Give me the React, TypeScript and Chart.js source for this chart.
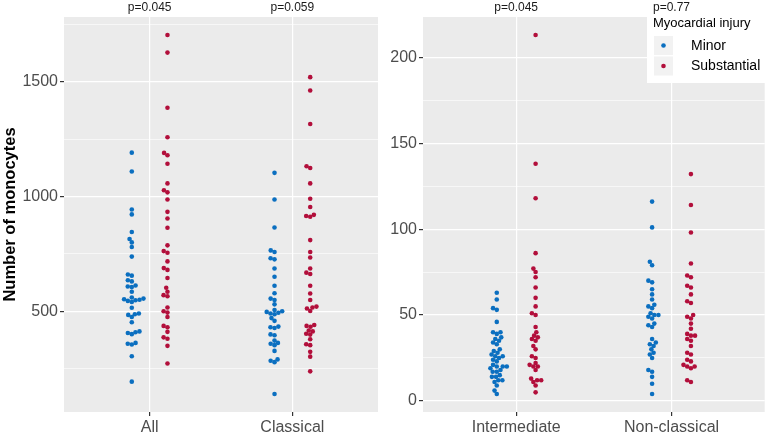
import React, { useEffect, useRef } from "react";
import { Chart, registerables } from "chart.js";

Chart.register(...registerables);

const leftCategories = ["All", "Classical"];
const rightCategories = ["Intermediate", "Non-classical"];
const groupNames = ["Minor", "Substantial"];
const groupColors = ["#0B6FC0", "#B20F3B"];
const legendTitle = "Myocardial injury";
const yTitle = "Number of monocytes";
const leftPValues = ["p=0.045", "p=0.059"];
const rightPValues = ["p=0.045", "p=0.77"];

const allMinor = [1191, 1109, 943, 922, 845, 815, 800, 780, 738, 660, 655, 635, 630, 612, 608, 605, 585, 560, 555, 552, 550, 548, 545, 540, 515, 490, 487, 484, 475, 452, 412, 408, 405, 400, 362, 358, 355, 304, 193];
const allSubstantial = [1704, 1627, 1387, 1258, 1190, 1180, 1143, 1057, 1027, 1018, 987, 933, 904, 864, 787, 762, 755, 717, 688, 680, 645, 602, 585, 570, 565, 516, 500, 494, 475, 436, 430, 410, 386, 380, 349, 272];
const classicalMinor = [1103, 987, 865, 765, 758, 731, 726, 686, 650, 611, 578, 555, 549, 530, 505, 500, 497, 493, 490, 487, 470, 458, 433, 430, 427, 399, 395, 372, 362, 358, 352, 327, 290, 284, 278, 139];
const classicalSubstantial = [1520, 1462, 1316, 1132, 1124, 1057, 990, 954, 920, 915, 912, 810, 758, 734, 686, 668, 662, 611, 577, 549, 520, 516, 512, 501, 440, 436, 432, 416, 412, 402, 398, 378, 356, 352, 323, 302, 238];
const intermediateMinor = [63, 59, 54, 53, 46, 40, 40, 39, 37, 36, 35, 34, 33, 30, 29, 28, 27, 26, 26, 25, 24, 23, 21, 20, 20, 20, 19, 18, 17, 17, 15, 14, 14, 12, 12, 11, 9, 6, 4];
const intermediateSubstantial = [213, 138, 118, 86, 77, 75, 72, 66, 60, 55, 51, 50, 43, 40, 38, 37, 36, 35, 32, 30, 26, 25, 22, 21, 20, 20, 18, 13, 12, 12, 11, 9, 5];
const nonClassicalMinor = [116, 101, 81, 79, 70, 69, 65, 62, 59, 56, 55, 54, 51, 50, 50, 49, 48, 45, 44, 43, 36, 34, 33, 32, 30, 28, 27, 25, 18, 17, 14, 10, 4];
const nonClassicalSubstantial = [132, 114, 98, 80, 73, 72, 67, 66, 62, 58, 57, 50, 49, 48, 45, 42, 39, 38, 38, 36, 35, 32, 28, 27, 24, 23, 21, 20, 20, 19, 12, 11];

const leftMinorTicks = 250;
const leftMajorTicks = 500;
const rightMinorTicks = 25;
const rightMajorTicks = 50;

const FONT = "'Liberation Sans', Arial, sans-serif";
const DODGE = 0.125;
const POINT_R = 2.3;
const SWARM_D = 4.1;

function swarm(ys: number[], d: number): number[] {
  const order = ys.map((_, i) => i).sort((a, b) => ys[b] - ys[a]);
  const placed: { x: number; y: number }[] = [];
  const out = new Array(ys.length).fill(0);
  for (const i of order) {
    const y = ys[i];
    const near = placed.filter((p) => Math.abs(p.y - y) < d);
    const cands = [0];
    for (const p of near) {
      const dx = Math.sqrt(Math.max(0, d * d - (p.y - y) * (p.y - y)));
      cands.push(p.x + dx, p.x - dx);
    }
    cands.sort((a, b) => Math.abs(a) - Math.abs(b) || a - b);
    let chosen = 0;
    for (const c of cands) {
      if (near.every((p) => (p.x - c) ** 2 + (p.y - y) ** 2 >= d * d - 0.01)) {
        chosen = c;
        break;
      }
    }
    out[i] = chosen;
    placed.push({ x: chosen, y });
  }
  return out;
}

function makeChart(
  canvas: HTMLCanvasElement,
  categories: string[],
  series: number[][][],
  pvals: string[],
  minorStep: number,
  majorStep: number,
  yAxisWidth: number,
  padRight: number,
  showTitle: boolean,
  showLegend: boolean
) {
  const allVals = series.flat(2);
  const lo = Math.min(...allVals);
  const hi = Math.max(...allVals);
  const pad = (hi - lo) * 0.05;
  const yMin = lo - pad;
  const yMax = hi + pad;

  const datasets = groupNames.map((name, g) => ({
    label: name,
    data: categories.flatMap((_, c) =>
      series[c][g].map((v) => ({ x: c + 1 + (g === 0 ? -DODGE : DODGE), y: v }))
    ),
    backgroundColor: groupColors[g],
    borderColor: groupColors[g],
    pointRadius: POINT_R,
    pointBorderWidth: 0,
    pointHoverRadius: POINT_R,
  }));

  const decor = {
    id: "decor",
    beforeDraw(chart: any) {
      const { ctx, chartArea } = chart;
      ctx.save();
      ctx.fillStyle = "#EBEBEB";
      ctx.fillRect(chartArea.left, chartArea.top, chartArea.right - chartArea.left, chartArea.bottom - chartArea.top);
      ctx.restore();
    },
    afterDraw(chart: any) {
      const { ctx } = chart;
      const xs = chart.scales.x;
      ctx.save();
      if (showLegend) {
        const bx = 263;
        ctx.fillStyle = "#FFFFFF";
        ctx.fillRect(bx, 13, chart.width - bx, 70);
        ctx.fillStyle = "#000000";
        ctx.font = `13px ${FONT}`;
        ctx.textAlign = "left";
        ctx.textBaseline = "middle";
        ctx.fillText(legendTitle, 269, 23);
        groupNames.forEach((name, g) => {
          const ky = 36 + g * 20.5;
          ctx.fillStyle = "#F2F2F2";
          ctx.fillRect(270, ky, 19, 19);
          ctx.fillStyle = groupColors[g];
          ctx.beginPath();
          ctx.arc(279.5, ky + 9.5, POINT_R, 0, Math.PI * 2);
          ctx.fill();
          ctx.fillStyle = "#000000";
          ctx.font = `14px ${FONT}`;
          ctx.fillText(name, 307, ky + 10);
        });
      }
      ctx.fillStyle = "#1A1A1A";
      ctx.font = `12px ${FONT}`;
      ctx.textAlign = "center";
      ctx.textBaseline = "middle";
      pvals.forEach((p, i) => {
        ctx.fillText(p, xs.getPixelForValue(i + 1), 8);
      });
      ctx.restore();
    },
  };

  const chart = new Chart(canvas, {
    type: "scatter",
    data: { datasets },
    options: {
      responsive: false,
      animation: false,
      events: [],
      layout: { padding: { top: 17, right: padRight, left: 0, bottom: 0 } },
      plugins: { legend: { display: false }, tooltip: { enabled: false } },
      scales: {
        x: {
          type: "linear",
          min: 0.4,
          max: 2.6,
          bounds: "data",
          afterBuildTicks: (s: any) => {
            s.ticks = categories.map((_, i) => ({ value: i + 1 }));
          },
          afterFit: (s: any) => {
            s.height = 22;
          },
          ticks: {
            autoSkip: false,
            maxRotation: 0,
            padding: 2,
            color: "#4D4D4D",
            font: { family: FONT, size: 16 },
            callback: (v: any) => categories[Math.round(Number(v)) - 1] ?? "",
          },
          grid: { color: "#FFFFFF", lineWidth: 1.2, tickLength: 4, tickColor: "#333333" },
          border: { display: false },
        },
        y: {
          type: "linear",
          min: yMin,
          max: yMax,
          bounds: "data",
          afterBuildTicks: (s: any) => {
            const t: any[] = [];
            for (let v = Math.ceil(yMin / minorStep) * minorStep; v <= yMax; v += minorStep) t.push({ value: v });
            s.ticks = t;
          },
          afterFit: (s: any) => {
            s.width = yAxisWidth;
          },
          ticks: {
            autoSkip: false,
            padding: 2,
            color: "#4D4D4D",
            font: { family: FONT, size: 16 },
            callback: (v: any) => (Number(v) % majorStep === 0 ? String(v) : ""),
          },
          grid: {
            color: "#FFFFFF",
            lineWidth: (ctx: any) => (ctx.tick && ctx.tick.value % majorStep === 0 ? 1.2 : 0.6),
            tickLength: 4,
            tickColor: (ctx: any) => (ctx.tick && ctx.tick.value % majorStep === 0 ? "#333333" : "rgba(0,0,0,0)"),
          },
          border: { display: false },
          title: {
            display: showTitle,
            text: yTitle,
            color: "#000000",
            font: { family: FONT, size: 16.5, weight: "bold" },
            padding: { top: 1, bottom: 0 },
          },
        },
      },
    },
    plugins: [decor],
  } as any);

  // beeswarm placement computed through the chart's own scales
  const xs = chart.scales.x;
  const ys = chart.scales.y;
  const pxPerUnit = xs.getPixelForValue(1) - xs.getPixelForValue(0);
  groupNames.forEach((_, g) => {
    const pts: { x: number; y: number }[] = [];
    categories.forEach((__, c) => {
      const vals = series[c][g];
      const py = vals.map((v) => ys.getPixelForValue(v));
      const offs = swarm(py, SWARM_D);
      vals.forEach((v, i) => {
        pts.push({ x: c + 1 + (g === 0 ? -DODGE : DODGE) + offs[i] / pxPerUnit, y: v });
      });
    });
    (chart.data.datasets[g] as any).data = pts;
  });
  chart.update("none");
  return chart;
}

export default function App() {
  const leftRef = useRef<HTMLCanvasElement>(null);
  const rightRef = useRef<HTMLCanvasElement>(null);

  useEffect(() => {
    document.body.style.margin = "0";
    const left = makeChart(
      leftRef.current!,
      leftCategories,
      [
        [allMinor, allSubstantial],
        [classicalMinor, classicalSubstantial],
      ],
      leftPValues,
      leftMinorTicks,
      leftMajorTicks,
      64,
      6,
      true,
      false
    );
    const right = makeChart(
      rightRef.current!,
      rightCategories,
      [
        [intermediateMinor, intermediateSubstantial],
        [nonClassicalMinor, nonClassicalSubstantial],
      ],
      rightPValues,
      rightMinorTicks,
      rightMajorTicks,
      39,
      2,
      false,
      true
    );
    return () => {
      left.destroy();
      right.destroy();
    };
  }, []);

  return (
    <div style={{ position: "fixed", left: 0, top: 0, width: 767, height: 434, background: "#FFFFFF" }}>
      <canvas ref={leftRef} width={384} height={434} style={{ position: "absolute", left: 0, top: 0, width: 384, height: 434 }} />
      <canvas ref={rightRef} width={383} height={434} style={{ position: "absolute", left: 384, top: 0, width: 383, height: 434 }} />
    </div>
  );
}
